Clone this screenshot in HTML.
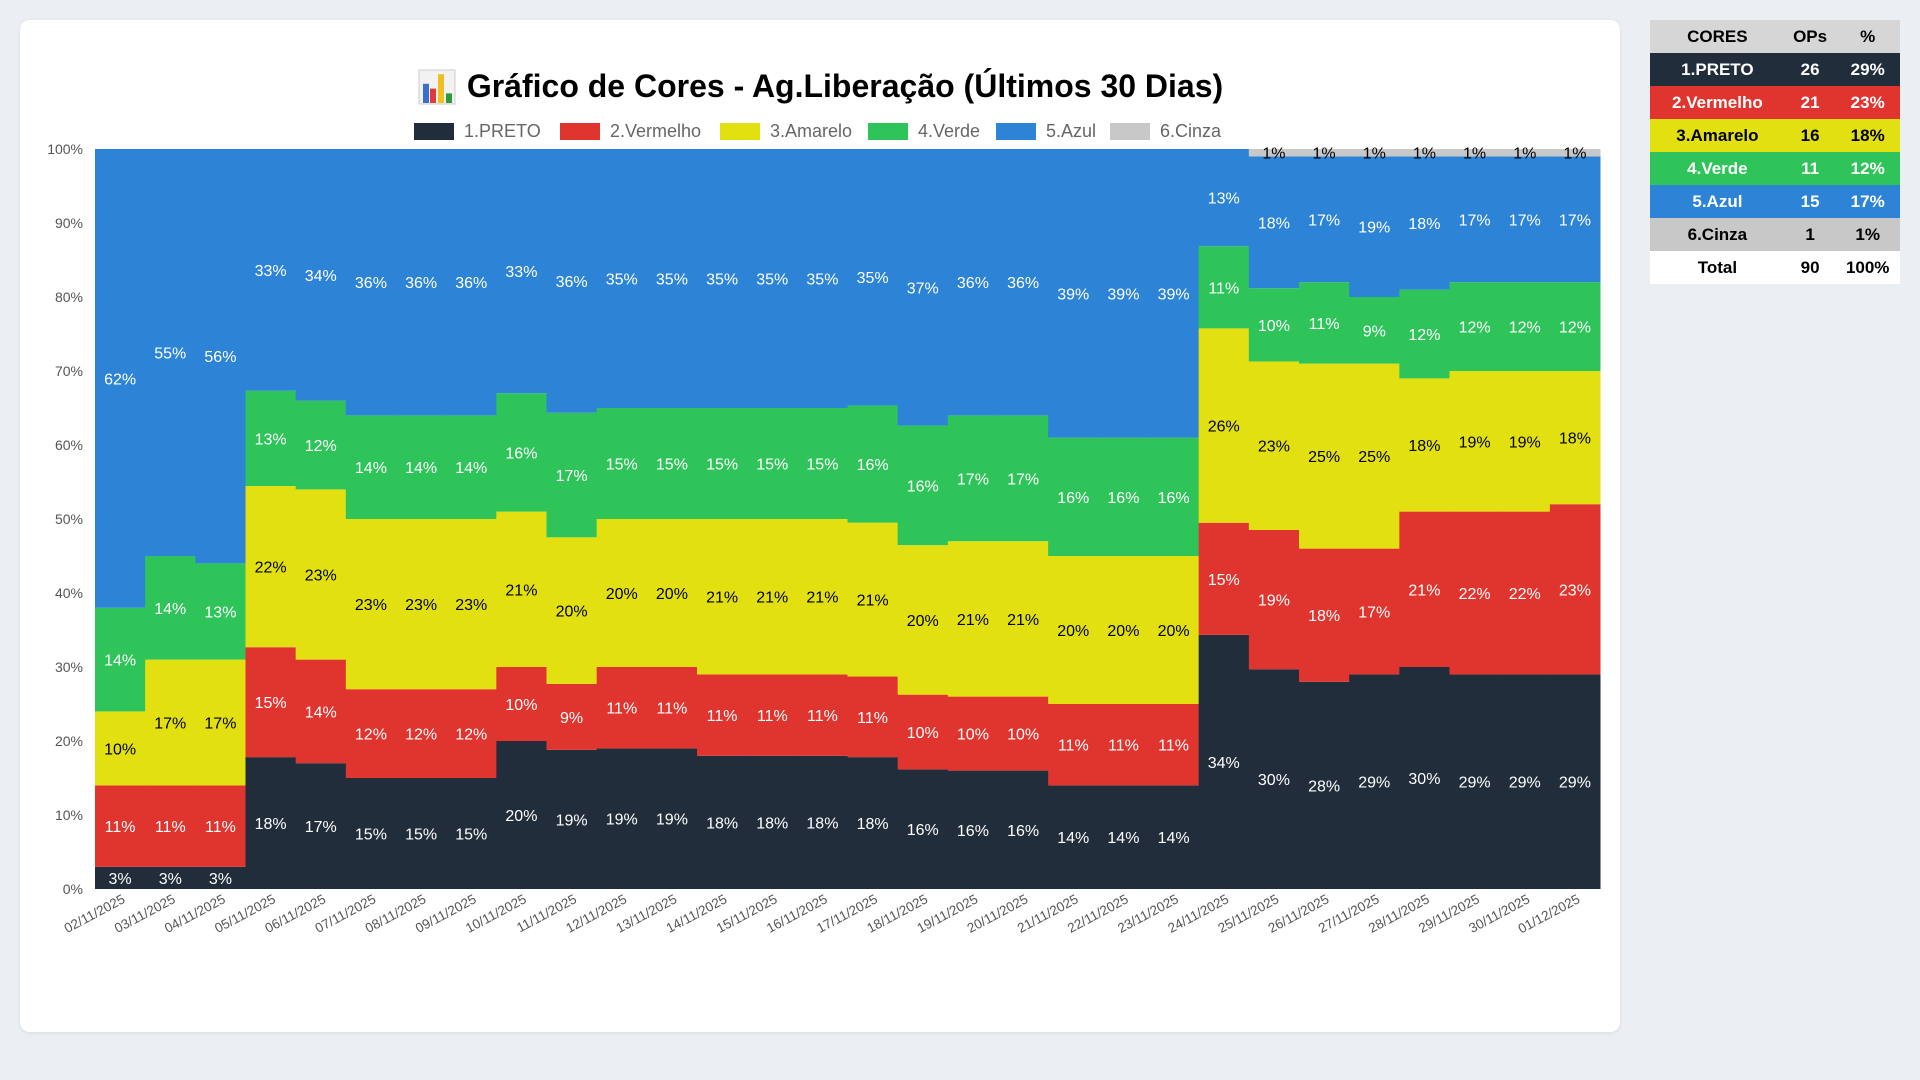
<!DOCTYPE html>
<html><head><meta charset="utf-8">
<style>
body{margin:0;width:1920px;height:1080px;background:#ebeef2;font-family:"Liberation Sans",sans-serif;overflow:hidden;position:relative}
#card{position:absolute;left:20px;top:20px;width:1600px;height:1012px;background:#fff;border-radius:10px;box-shadow:0 1px 4px rgba(0,0,0,.08)}
#tbl{position:absolute;left:1650px;top:20px;width:250px;border-collapse:collapse;font-weight:bold;font-size:17px}
#tbl td{height:33px;padding:0;text-align:center}
</style></head><body>
<div id="card"></div>
<svg id="chart" width="1920" height="1080" style="position:absolute;left:0;top:0"></svg>
<table id="tbl">
<tr style="background:#d6d6d6;color:#000"><td>CORES</td><td>OPs</td><td>%</td></tr>
<tr style="background:#222d3c;color:#fff"><td>1.PRETO</td><td>26</td><td>29%</td></tr>
<tr style="background:#e0352f;color:#fff"><td>2.Vermelho</td><td>21</td><td>23%</td></tr>
<tr style="background:#e2e011;color:#000"><td>3.Amarelo</td><td>16</td><td>18%</td></tr>
<tr style="background:#2fc45a;color:#fff"><td>4.Verde</td><td>11</td><td>12%</td></tr>
<tr style="background:#2d84d6;color:#fff"><td>5.Azul</td><td>15</td><td>17%</td></tr>
<tr style="background:#c8c8c8;color:#000"><td>6.Cinza</td><td>1</td><td>1%</td></tr>
<tr style="background:#fff;color:#000"><td>Total</td><td>90</td><td>100%</td></tr>
</table>
<script>
const categories=["02/11/2025","03/11/2025","04/11/2025","05/11/2025","06/11/2025","07/11/2025","08/11/2025","09/11/2025","10/11/2025","11/11/2025","12/11/2025","13/11/2025","14/11/2025","15/11/2025","16/11/2025","17/11/2025","18/11/2025","19/11/2025","20/11/2025","21/11/2025","22/11/2025","23/11/2025","24/11/2025","25/11/2025","26/11/2025","27/11/2025","28/11/2025","29/11/2025","30/11/2025","01/12/2025"];
const preto=[3,3,3,18,17,15,15,15,20,19,19,19,18,18,18,18,16,16,16,14,14,14,34,30,28,29,30,29,29,29];
const vermelho=[11,11,11,15,14,12,12,12,10,9,11,11,11,11,11,11,10,10,10,11,11,11,15,19,18,17,21,22,22,23];
const amarelo=[10,17,17,22,23,23,23,23,21,20,20,20,21,21,21,21,20,21,21,20,20,20,26,23,25,25,18,19,19,18];
const verde=[14,14,13,13,12,14,14,14,16,17,15,15,15,15,15,16,16,17,17,16,16,16,11,10,11,9,12,12,12,12];
const azul=[62,55,56,33,34,36,36,36,33,36,35,35,35,35,35,35,37,36,36,39,39,39,13,18,17,19,18,17,17,17];
const cinza=[0,0,0,0,0,0,0,0,0,0,0,0,0,0,0,0,0,0,0,0,0,0,0,1,1,1,1,1,1,1];
const seriesNames=["1.PRETO","2.Vermelho","3.Amarelo","4.Verde","5.Azul","6.Cinza"];
const yTicks=[0,10,20,30,40,50,60,70,80,90,100];
const colors=["#222d3c","#e0352f","#e2e011","#2fc45a","#2d84d6","#c8c8c8"];
const txtCol=["#fff","#fff","#000","#fff","#fff","#000"];
const series=[preto,vermelho,amarelo,verde,azul,cinza];
const L=95,R=1600,T=149,B=889;
const bw=(R-L)/categories.length;
const xS=i=>L+i*bw;
const yS=v=>B-(B-T)*v/100;
const svg=document.getElementById('chart');
const NS="http://www.w3.org/2000/svg";
function mk(tag,at,txt){const e=document.createElementNS(NS,tag);for(const k in at)e.setAttribute(k,at[k]);if(txt!=null)e.textContent=txt;svg.appendChild(e);return e;}
// title
let t=mk('text',{x:845,y:97,'text-anchor':'middle','font-size':32,'font-weight':'bold',fill:'#000'},'Gráfico de Cores - Ag.Liberação (Últimos 30 Dias)');


// icon
let bg=mk('rect',{x:419,y:70,width:36,height:34,fill:'#f2f2f2',stroke:'#ccc'});


[[423,0.6,'#3a6fd0'],[430,0.45,'#e03a3a'],[438,0.9,'#f0c020'],[446,0.3,'#2a9a3a']].forEach(a=>{let r=mk('rect',{x:a[0],y:103-32*a[1],width:6,height:32*a[1],fill:a[2]});});
// legend
const legX=[414,560,720,868,996,1110];
seriesNames.forEach((n,i)=>{
 let r=mk('rect',{x:legX[i],y:123,width:40,height:17,fill:colors[i]});
 
 
 let tx=mk('text',{x:legX[i]+50,y:137,'font-size':18,fill:'#666'},n);
 
 
});
// y ticks
yTicks.forEach(v=>{
 let tx=mk('text',{x:83,y:yS(v)+5,'text-anchor':'end','font-size':14,fill:'#555'},v+'%');
 
 
});
// bars
categories.forEach((c,i)=>{
 let tot=0;series.forEach(s=>tot+=s[i]);
 let cum=0;
 series.forEach((s,k)=>{
  const v=s[i]/tot*100;
  if(s[i]<=0)return;
  const y0=yS(cum),y1=yS(cum+v);
  let r=mk('rect',{x:xS(i),y:y1,width:bw+0.5,height:y0-y1,fill:colors[k]});
  
  
  let tx=mk('text',{x:xS(i)+bw/2,y:(y0+y1)/2+6,'text-anchor':'middle','font-size':16,fill:txtCol[k]},s[i]+'%');
  
  
  cum+=v;
 });
 const cx=xS(i)+bw/2+6;
 let xl=mk('text',{x:cx,y:902,'text-anchor':'end','font-size':13.5,fill:'#555',transform:`rotate(-28 ${cx} 902)`},c);
 
 
});
</script>
</body></html>
